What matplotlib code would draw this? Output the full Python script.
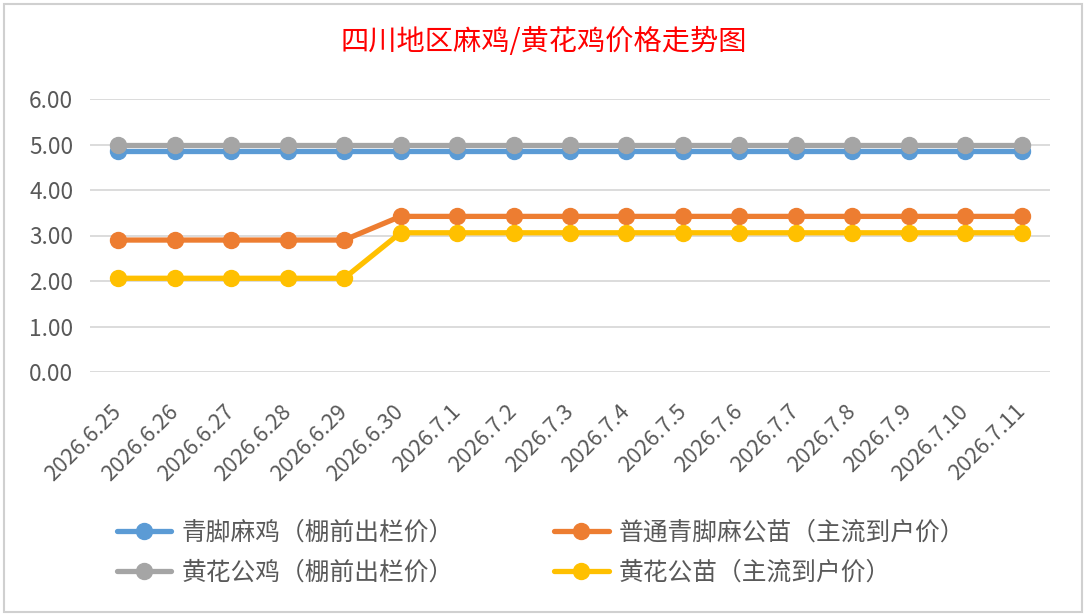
import matplotlib
matplotlib.use("Agg")
import matplotlib.pyplot as plt
from matplotlib.patches import Rectangle

plt.rcParams['font.family'] = ['Noto Sans CJK SC', 'DejaVu Sans']

dates = ["2026.6.25", "2026.6.26", "2026.6.27", "2026.6.28", "2026.6.29", "2026.6.30",
         "2026.7.1", "2026.7.2", "2026.7.3", "2026.7.4", "2026.7.5", "2026.7.6",
         "2026.7.7", "2026.7.8", "2026.7.9", "2026.7.10", "2026.7.11"]
qingjiao_ma = [4.86] * 17
putong_gongmiao = [2.9] * 5 + [3.42] * 12
huanghua_gongji = [5.0] * 17
huanghua_gongmiao = [2.06] * 5 + [3.06] * 12

series_names = ["青脚麻鸡（棚前出栏价）", "普通青脚麻公苗（主流到户价）",
                "黄花公鸡（棚前出栏价）", "黄花公苗（主流到户价）"]
series_values = [qingjiao_ma, putong_gongmiao, huanghua_gongji, huanghua_gongmiao]
colors = ["#5B9BD5", "#ED7D31", "#A5A5A5", "#FFC000"]
title = "四川地区麻鸡/黄花鸡价格走势图"
yticks = [0, 1, 2, 3, 4, 5, 6]

W, H = 1088, 616
fig = plt.figure(figsize=(W / 100, H / 100), dpi=100)
fig.patch.set_facecolor("white")
fig.patches.append(Rectangle((4 / W, 4 / H), (1082 - 4) / W, (612 - 4) / H,
                             transform=fig.transFigure, fill=False,
                             edgecolor="#D0D0D0", linewidth=1.5))

ax = fig.add_axes([90 / W, (H - 372) / H, (1050 - 90) / W, (372 - 99) / H])
x = list(range(len(dates)))
handles = []
for name, vals, c in zip(series_names, series_values, colors):
    h, = ax.plot(x, vals, color=c, linewidth=3.8, marker="o", markersize=11.5,
                 label=name, solid_capstyle="round", zorder=3)
    handles.append(h)

ax.set_xlim(-0.5, len(dates) - 0.5)
ax.set_ylim(0, 6)
ax.set_yticks(yticks)
ax.set_yticklabels([f"{v:.2f}" for v in yticks])
ax.set_xticks(x)
ax.set_xticklabels(dates, rotation=45, ha="right", va="center", rotation_mode="anchor")
ax.tick_params(axis="y", length=0, pad=12, labelsize=16.3, labelcolor="#595959")
ax.tick_params(axis="x", length=0, pad=26, labelsize=15.8, labelcolor="#595959")
ax.grid(axis="y", color="#D9D9D9", linewidth=1.3)
ax.set_axisbelow(True)
for s in ax.spines.values():
    s.set_visible(False)

fig.text(544 / W, 1 - 42 / H, title, color="#FF0000", fontsize=20.3,
         ha="center", va="center")

order = [0, 2, 1, 3]
leg = fig.legend([handles[i] for i in order], [series_names[i] for i in order],
                 ncol=2, loc="upper left", bbox_to_anchor=(117 / W, 1 - 520 / H),
                 frameon=False, fontsize=17.8, handlelength=2.2, handletextpad=0.4,
                 columnspacing=4.07, labelspacing=0.57, borderpad=0, borderaxespad=0,
                 labelcolor="#595959")

fig.savefig("out.png", dpi=100, facecolor="white")
